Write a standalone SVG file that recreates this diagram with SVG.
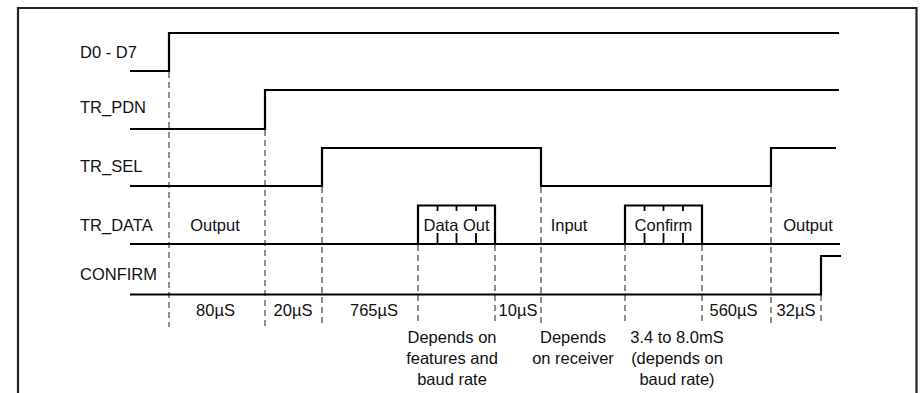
<svg xmlns="http://www.w3.org/2000/svg" width="920" height="393" viewBox="0 0 920 393">
<style>
.frame{fill:none;stroke:#222;stroke-width:2.2}
.sig{fill:none;stroke:#000;stroke-width:2.2;stroke-linejoin:miter}
.bus{fill:none;stroke:#000;stroke-width:1.8}
.tick{stroke:#000;stroke-width:1.8}
.dash{stroke:#444;stroke-width:1.2;stroke-dasharray:6 4;fill:none}
text{font-family:"Liberation Sans",Arial,Helvetica,sans-serif;font-size:16.5px;fill:#111}
.c{text-anchor:middle}
</style>
<rect width="920" height="393" fill="#fff"/>
<path class="frame" d="M18,400 V8 H916.5 V400"/>
<g id="labels">
<text x="80" y="58">D0 - D7</text>
<text x="80" y="113">TR_PDN</text>
<text x="80" y="172">TR_SEL</text>
<text x="80" y="231">TR_DATA</text>
<text x="80" y="280">CONFIRM</text>
</g>
<g id="connectors">
<path class="dash" d="M169,72 V327"/>
<path class="dash" d="M265,130 V327"/>
<path class="dash" d="M322,187 V327"/>
<path class="dash" d="M418,245 V325"/>
<path class="dash" d="M495,245 V325"/>
<path class="dash" d="M541,187 V327"/>
<path class="dash" d="M625,245 V325"/>
<path class="dash" d="M702,245 V325"/>
<path class="dash" d="M771,187 V327"/>
<path class="dash" d="M821,295 V325"/>
</g>
<g id="d0d7"><path class="sig" d="M130,71 H169 V33 H839"/></g>
<g id="tr_pdn"><path class="sig" d="M130,129 H265 V90 H839"/></g>
<g id="tr_sel"><path class="sig" d="M130,186 H322 V148 H541 V186 H771 V148 H836"/></g>
<g id="tr_data">
<path class="bus" d="M130,244 H840"/>
<path class="sig" d="M418,244 V205.5 H495 V244"/>
<path class="tick" d="M437.5,205 V211 M456.5,205 V211 M476,205 V211 M437.5,233 V244 M456.5,233 V244 M476,233 V244"/>
<text x="456.5" y="231" class="c">Data Out</text>
<path class="sig" d="M625,244 V205.5 H702 V244"/>
<path class="tick" d="M644.5,205 V211 M663.5,205 V211 M683,205 V211 M644.5,233 V244 M663.5,233 V244 M683,233 V244"/>
<text x="663.5" y="231" class="c">Confirm</text>
<text x="215" y="231" class="c">Output</text>
<text x="569" y="231" class="c">Input</text>
<text x="808" y="231" class="c">Output</text>
</g>
<g id="confirm"><path class="sig" d="M130,294.5 H821 V256 H841"/></g>
<g id="timings">
<text x="215.5" y="316" class="c">80µS</text>
<text x="293" y="316" class="c">20µS</text>
<text x="374" y="316" class="c">765µS</text>
<text x="518" y="316" class="c">10µS</text>
<text x="733.5" y="316" class="c">560µS</text>
<text x="796" y="316" class="c">32µS</text>
</g>
<g id="notes">
<text x="452" y="343" class="c">Depends on</text>
<text x="452" y="364" class="c">features and</text>
<text x="452" y="384.5" class="c">baud rate</text>
<text x="573" y="343" class="c">Depends</text>
<text x="573" y="364" class="c">on receiver</text>
<text x="677" y="343" class="c">3.4 to 8.0mS</text>
<text x="677" y="364" class="c">(depends on</text>
<text x="677" y="384.5" class="c">baud rate)</text>
</g>
</svg>
